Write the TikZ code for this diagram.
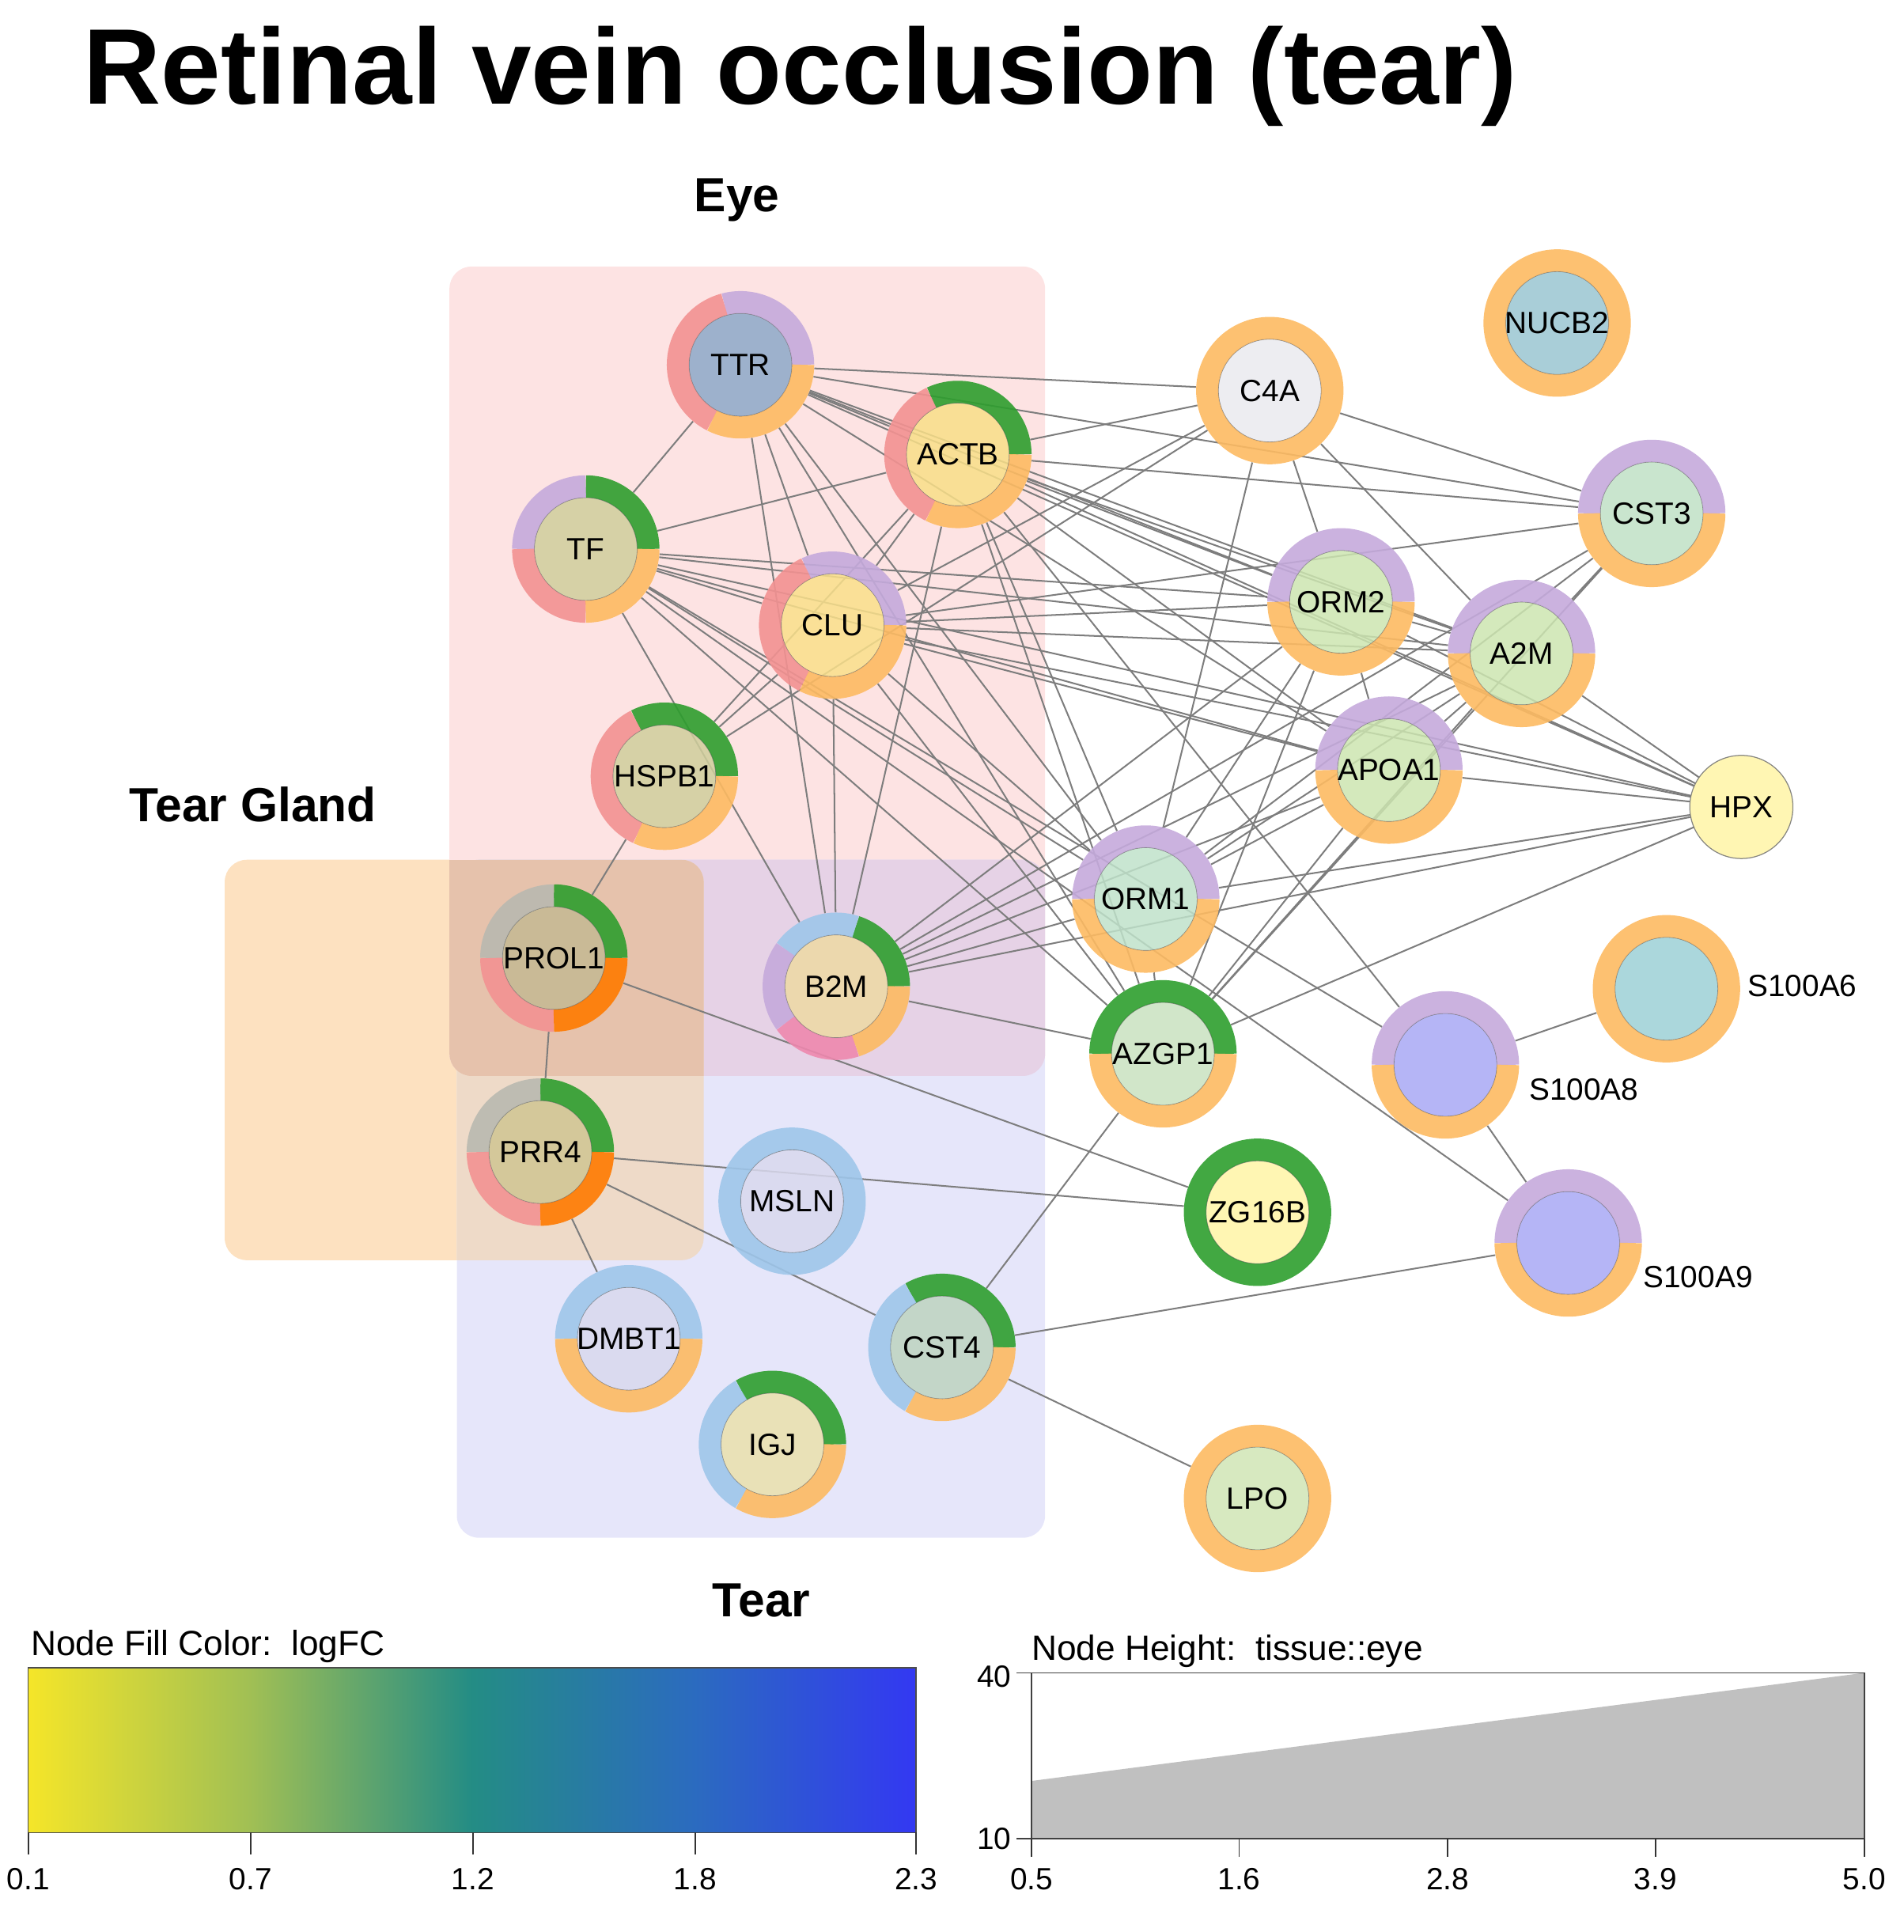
\documentclass[tikz,border=0pt]{standalone}
\usepackage{fontspec}
\setmainfont{Liberation Sans}
\pgfdeclarelayer{boxes}
\pgfdeclarelayer{edges}
\pgfdeclarelayer{nodebg}
\pgfsetlayers{boxes,edges,nodebg,main}
% ring colours
\definecolor{cpink}{HTML}{F39292}
\definecolor{cpur}{HTML}{C5AADC}
\definecolor{corg}{HTML}{FDBA62}
\definecolor{cdorg}{HTML}{FF7A00}
\definecolor{cgrn}{HTML}{2E9E2E}
\definecolor{cblu}{HTML}{9EC6EA}
\definecolor{cgry}{HTML}{B9B9B0}
\definecolor{chpk}{HTML}{EE88AE}
% box colours
\definecolor{beye}{HTML}{FDE3E3}
\definecolor{btear}{HTML}{E6E6FA}
\definecolor{bgland}{HTML}{FDE1C0}
\definecolor{beyetear}{HTML}{E6D2E6}
\definecolor{bglandtear}{HTML}{EEDAC8}
\definecolor{btriple}{HTML}{E6C2AC}
% fill colours
\definecolor{fTTR}{HTML}{8DA9C8}
\definecolor{fACTB}{HTML}{F9DF88}
\definecolor{fTF}{HTML}{D0CF9C}
\definecolor{fCLU}{HTML}{FAE08A}
\definecolor{fPROL}{HTML}{C4B993}
\definecolor{fPRR}{HTML}{D0C592}
\definecolor{fB2M}{HTML}{EEDAA4}
\definecolor{fMSLN}{HTML}{D9D9EE}
\definecolor{fCST4}{HTML}{BED4C0}
\definecolor{fIGJ}{HTML}{EAE1AC}
\definecolor{fC4A}{HTML}{EAEAEF}
\definecolor{fNUCB}{HTML}{9AC6D1}
\definecolor{fCST3}{HTML}{C0E0C5}
\definecolor{fORM}{HTML}{CCE5B0}
\definecolor{fORM1}{HTML}{BFE2CA}
\definecolor{fAZ}{HTML}{C9E2BF}
\definecolor{fYel}{HTML}{FFF4A6}
\definecolor{fS6}{HTML}{9CD0D6}
\definecolor{fS89}{HTML}{A8A8F5}
\definecolor{fLPO}{HTML}{D0E5B5}
\definecolor{cedge}{RGB}{125,125,125}
\definecolor{cbord}{RGB}{115,115,115}
\pgfdeclarehorizontalshading{logfc}{100bp}{rgb(0bp)=(0.96,0.90,0.16); rgb(25bp)=(0.96,0.90,0.16); rgb(37.5bp)=(0.63,0.75,0.33); rgb(50bp)=(0.14,0.55,0.52); rgb(62.5bp)=(0.17,0.42,0.75); rgb(75bp)=(0.20,0.22,0.95); rgb(100bp)=(0.20,0.22,0.95)}
\newcommand{\seg}[4]{\draw[ring,#4] (#1.center) ++(#2:51pt) arc[start angle=#2,end angle=#3,radius=51pt];}
\newcommand{\fullring}[2]{\draw[ring,#2] (#1.center) circle[radius=51pt];}
\newcommand{\core}[2]{\draw[draw=cbord, line width=0.8pt, fill=#2, fill opacity=0.85, draw opacity=0.85] (#1.center) circle[radius=42pt];}
\tikzset{
  gn/.style={circle, inner sep=0pt, minimum size=120pt, font=\fontsize{25}{25}\selectfont},
  gs/.style={circle, inner sep=0pt, minimum size=84pt, font=\fontsize{25}{25}\selectfont},
  ring/.style={line width=18pt, draw opacity=0.9},
  edge/.style={draw=cedge, line width=1.3pt},
  grp/.style={font=\fontsize{39}{39}\selectfont\bfseries},
  leg/.style={font=\fontsize{28.5}{28.5}\selectfont},
  tick/.style={font=\fontsize{25}{25}\selectfont},
  ext/.style={anchor=west, font=\fontsize{25}{25}\selectfont, inner sep=0pt},
  box/.style={rounded corners=18pt}
}
\begin{document}
\begin{tikzpicture}[x=1pt,y=1pt]
\useasboundingbox (0,0) rectangle (1550,-1573);
% title
\node[anchor=base west, inner sep=0pt, font=\fontsize{87.5}{87.5}\selectfont\bfseries] (title) at (68,-85) {Retinal vein occlusion (tear)};
% group boxes
\begin{pgfonlayer}{boxes}
\fill[bgland, box] (183,-700) rectangle (573,-1026);
\fill[beye, box] (366,-217) rectangle (851,-876);
\fill[btear, box] (372,-700) rectangle (851,-1252);
\begin{scope}
  \clip[box] (366,-217) rectangle (851,-876);
  \fill[beyetear, box] (372,-700) rectangle (851,-1252);
\end{scope}
\begin{scope}
  \clip[box] (183,-700) rectangle (573,-1026);
  \fill[bglandtear, box] (372,-700) rectangle (851,-1252);
  \clip[box] (366,-217) rectangle (851,-876);
  \fill[btriple] (183,-700) rectangle (573,-1026);
\end{scope}
\end{pgfonlayer}
\node[grp] (lEye) at (600,-163) {Eye};
\node[grp] (lGland) at (206,-655) {Tear Gland};
\node[grp] (lTear) at (620,-1303) {Tear};
% nodes
\node[gn] (TTR) at (603,-297) {TTR};
\node[gn] (ACTB) at (780,-370) {ACTB};
\node[gn] (TF) at (477,-447) {TF};
\node[gn] (CLU) at (678,-509) {CLU};
\node[gn] (HSPB1) at (541,-632) {HSPB1};
\node[gn] (PROL1) at (451,-780) {PROL1};
\node[gn] (PRR4) at (440,-938) {PRR4};
\node[gn] (B2M) at (681,-803) {B2M};
\node[gn] (MSLN) at (645,-978) {MSLN};
\node[gn] (DMBT1) at (512,-1090) {DMBT1};
\node[gn] (CST4) at (767,-1097) {CST4};
\node[gn] (IGJ) at (629,-1176) {IGJ};
\node[gn] (C4A) at (1034,-318) {C4A};
\node[gn] (NUCB2) at (1268,-263) {NUCB2};
\node[gn] (CST3) at (1345,-418) {CST3};
\node[gn] (ORM2) at (1092,-490) {ORM2};
\node[gn] (A2M) at (1239,-532) {A2M};
\node[gn] (APOA1) at (1131,-627) {APOA1};
\node[gs] (HPX) at (1418,-657) {HPX};
\node[gn] (ORM1) at (933,-732) {ORM1};
\node[gn] (AZGP1) at (947,-858) {AZGP1};
\node[gn] (ZG16B) at (1024,-987) {ZG16B};
\node[gn] (S100A6) at (1357,-805) {};
\node[gn] (S100A8) at (1177,-867) {};
\node[gn] (S100A9) at (1277,-1012) {};
\node[gn] (LPO) at (1024,-1220) {LPO};
\node[ext] (tS6) at (1423,-803) {S100A6};
\node[ext] (tS8) at (1245,-887) {S100A8};
\node[ext] (tS9) at (1338,-1040) {S100A9};
% node bodies
\begin{pgfonlayer}{nodebg}
\core{TTR}{fTTR}\core{ACTB}{fACTB}\core{TF}{fTF}\core{CLU}{fCLU}\core{HSPB1}{fTF}
\core{PROL1}{fPROL}\core{PRR4}{fPRR}\core{B2M}{fB2M}\core{MSLN}{fMSLN}\core{DMBT1}{fMSLN}
\core{CST4}{fCST4}\core{IGJ}{fIGJ}\core{C4A}{fC4A}\core{NUCB2}{fNUCB}\core{CST3}{fCST3}
\core{ORM2}{fORM}\core{A2M}{fORM}\core{APOA1}{fORM}\core{HPX}{fYel}\core{ORM1}{fORM1}
\core{AZGP1}{fAZ}\core{ZG16B}{fYel}\core{S100A6}{fS6}\core{S100A8}{fS89}\core{S100A9}{fS89}\core{LPO}{fLPO}
\seg{TTR}{0}{105}{cpur}\seg{TTR}{105}{243}{cpink}\seg{TTR}{243}{360}{corg}
\seg{ACTB}{0}{115}{cgrn}\seg{ACTB}{115}{244}{cpink}\seg{ACTB}{244}{360}{corg}
\seg{TF}{0}{90}{cgrn}\seg{TF}{90}{180}{cpur}\seg{TF}{180}{270}{cpink}\seg{TF}{270}{360}{corg}
\seg{CLU}{0}{115}{cpur}\seg{CLU}{115}{243}{cpink}\seg{CLU}{243}{360}{corg}
\seg{HSPB1}{0}{117}{cgrn}\seg{HSPB1}{117}{245}{cpink}\seg{HSPB1}{245}{360}{corg}
\seg{PROL1}{0}{90}{cgrn}\seg{PROL1}{90}{180}{cgry}\seg{PROL1}{180}{270}{cpink}\seg{PROL1}{270}{360}{cdorg}
\seg{PRR4}{0}{90}{cgrn}\seg{PRR4}{90}{180}{cgry}\seg{PRR4}{180}{270}{cpink}\seg{PRR4}{270}{360}{cdorg}
\seg{B2M}{0}{72}{cgrn}\seg{B2M}{72}{144}{cblu}\seg{B2M}{144}{216}{cpur}\seg{B2M}{216}{288}{chpk}\seg{B2M}{288}{360}{corg}
\fullring{MSLN}{cblu}
\seg{DMBT1}{0}{180}{cblu}\seg{DMBT1}{180}{360}{corg}
\seg{CST4}{0}{120}{cgrn}\seg{CST4}{120}{240}{cblu}\seg{CST4}{240}{360}{corg}
\seg{IGJ}{0}{120}{cgrn}\seg{IGJ}{120}{240}{cblu}\seg{IGJ}{240}{360}{corg}
\fullring{C4A}{corg}\fullring{NUCB2}{corg}\fullring{S100A6}{corg}\fullring{LPO}{corg}
\fullring{ZG16B}{cgrn}
\foreach \n in {CST3,ORM2,A2M,APOA1,ORM1,S100A8,S100A9}{\seg{\n}{0}{180}{cpur}\seg{\n}{180}{360}{corg}}
\seg{AZGP1}{0}{180}{cgrn}\seg{AZGP1}{180}{360}{corg}
\end{pgfonlayer}
% edges
\begin{pgfonlayer}{edges}
\foreach \a/\b in {TTR/TF,TTR/ACTB,TTR/CLU,TTR/C4A,TTR/CST3,TTR/ORM2,TTR/A2M,TTR/APOA1,TTR/HPX,TTR/ORM1,TTR/AZGP1,TTR/B2M,
  TF/ACTB,TF/CLU,TF/ORM2,TF/A2M,TF/APOA1,TF/HPX,TF/ORM1,TF/AZGP1,TF/B2M,TF/S100A8,TF/S100A9,
  ACTB/CLU,ACTB/HSPB1,ACTB/B2M,ACTB/C4A,ACTB/CST3,ACTB/ORM2,ACTB/A2M,ACTB/APOA1,ACTB/HPX,ACTB/ORM1,ACTB/AZGP1,ACTB/S100A8,
  CLU/HSPB1,CLU/B2M,CLU/C4A,CLU/CST3,CLU/ORM2,CLU/A2M,CLU/APOA1,CLU/HPX,CLU/ORM1,CLU/AZGP1,
  HSPB1/PROL1,HSPB1/C4A,
  C4A/CST3,C4A/ORM2,C4A/A2M,C4A/ORM1,
  CST3/A2M,CST3/AZGP1,CST3/ORM1,CST3/B2M,
  ORM2/A2M,ORM2/APOA1,ORM2/HPX,ORM2/ORM1,ORM2/AZGP1,ORM2/B2M,
  A2M/APOA1,A2M/HPX,A2M/ORM1,A2M/AZGP1,A2M/B2M,
  APOA1/HPX,APOA1/ORM1,APOA1/AZGP1,APOA1/B2M,
  HPX/ORM1,HPX/AZGP1,HPX/B2M,
  ORM1/AZGP1,ORM1/B2M,
  AZGP1/B2M,AZGP1/CST4,
  PROL1/PRR4,PROL1/ZG16B,PRR4/ZG16B,PRR4/CST4,PRR4/DMBT1,
  CST4/S100A9,CST4/LPO,S100A8/S100A6,S100A8/S100A9}
  {\draw[edge] (\a) -- (\b);}
\end{pgfonlayer}
% legend: fill colour
\node[leg, anchor=base west, inner sep=0pt] (legA) at (25,-1348) {Node Fill Color:\ \ logFC};
\shade[shading=logfc] (23,-1358) rectangle (746,-1492);
\draw[line width=1pt, black!70] (23,-1358) rectangle (746,-1492);
\foreach \x/\t in {23/0.1,204/0.7,385/1.2,566/1.8,746/2.3}{
  \draw[line width=1.2pt, black!80] (\x,-1492) -- (\x,-1510);
  \node[tick] at (\x,-1530) {\t};
}
% legend: node height
\node[leg, anchor=base west, inner sep=0pt] (legB) at (840,-1352) {Node Height:\ \ tissue::eye};
\fill[fill={rgb,255:red,192;green,192;blue,192}] (840,-1450) -- (1518,-1362) -- (1518,-1497) -- (840,-1497) -- cycle;
\draw[line width=1.2pt, black!75] (840,-1362) rectangle (1518,-1497);
\draw[line width=1.2pt, black!75] (828,-1362) -- (840,-1362);
\draw[line width=1.2pt, black!75] (828,-1497) -- (840,-1497);
\node[tick, anchor=east] at (827,-1365) {40};
\node[tick, anchor=east] at (827,-1497) {10};
\foreach \x/\t in {840/0.5,1009/1.6,1179/2.8,1348/3.9,1518/5.0}{
  \draw[line width=1.2pt, black!80] (\x,-1497) -- (\x,-1512);
  \node[tick] at (\x,-1530) {\t};
}
\end{tikzpicture}
\end{document}
